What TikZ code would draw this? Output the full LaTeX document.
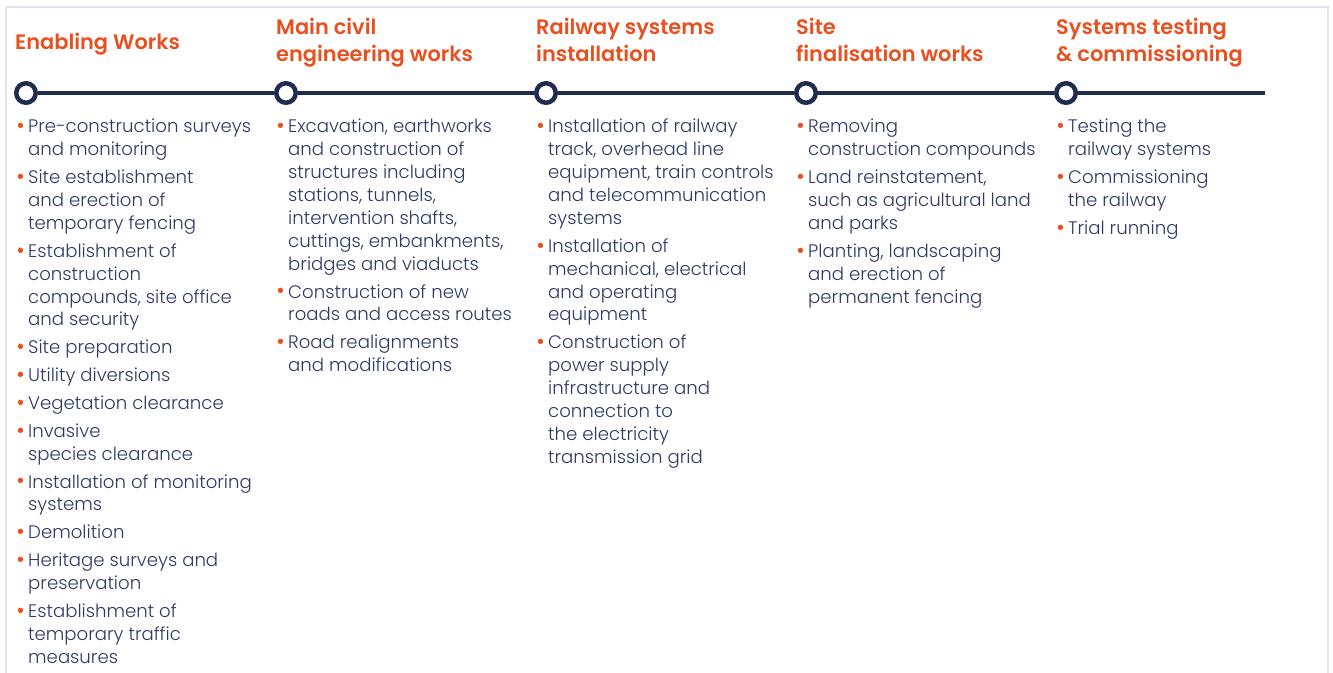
\documentclass[tikz,border=0pt]{standalone}
\usepackage{fontspec}
\usepackage{xcolor}
\setmainfont{Poppins}
\newfontfamily\poppins{Poppins}
\IfFontExistsTF{Poppins Light}{\newfontfamily\bodyfont{Poppins Light}}{\newcommand\bodyfont{\poppins}}
\IfFontExistsTF{Poppins SemiBold}{\newfontfamily\headfont{Poppins SemiBold}}{\newcommand\headfont{\poppins\bfseries}}
\definecolor{navy}{HTML}{1F2C50}
\definecolor{txt}{HTML}{2E3A64}
\definecolor{orng}{HTML}{E8511F}
\definecolor{framec}{HTML}{E2E2EE}
\newcommand\bul{\llap{\textcolor{orng}{\fontsize{23}{23}\selectfont\raisebox{-0.8bp}{•}}\hspace{3.5bp}}}
\newcommand\bi[1]{\hbox{\color{txt}\bul#1}}
\newcommand\ci[1]{\hbox{\color{txt}#1}}
\newcommand\hl[1]{\hbox{\color{orng}#1}}
\newcommand\gp{\vskip5bp}
\newcommand\colbox[1]{\vtop{\bodyfont\fontsize{18.2}{22.95}\selectfont#1}}
\newcommand\headbox[1]{\vtop{\headfont\fontsize{21}{27}\selectfont#1}}
\tikzset{
  milestone/.style={circle, draw=navy, line width=4.5bp, fill=white, minimum size=19.5bp, inner sep=0},
  colnode/.style={anchor=base west, inner sep=0},
  track/.style={draw=navy, line width=4bp},
}
\begin{document}
\begin{tikzpicture}[x=1bp,y=-1bp]
\useasboundingbox (0,0) rectangle (1333,672);
\draw[framec, line width=2bp] (6,690) -- (6,7) -- (1328,7) -- (1328,690);
% headings
\node[colnode] (h1) at (15,50) {\headbox{\hl{Enabling Works}}};
\node[colnode] (h2) at (276,35) {\headbox{\hl{Main civil}\hl{engineering works}}};
\node[colnode] (h3) at (536,35) {\headbox{\hl{Railway systems}\hl{installation}}};
\node[colnode] (h4) at (796,35) {\headbox{\hl{Site}\hl{finalisation works}}};
\node[colnode] (h5) at (1056,35) {\headbox{\hl{Systems testing}\hl{\& commissioning}}};
% timeline
\coordinate (tend) at (1265,93);
\node[milestone] (m1) at (26,93) {};
\node[milestone] (m2) at (286,93) {};
\node[milestone] (m3) at (546,93) {};
\node[milestone] (m4) at (806,93) {};
\node[milestone] (m5) at (1066,93) {};
\draw[track] (m1) -- (m2);
\draw[track] (m2) -- (m3);
\draw[track] (m3) -- (m4);
\draw[track] (m4) -- (m5);
\draw[track] (m5) -- (tend);
% columns
\node[colnode] (c1) at (28,133) {\colbox{%
\bi{Pre-construction surveys}\ci{and monitoring}\gp
\bi{Site establishment}\ci{and erection of}\ci{temporary fencing}\gp
\bi{Establishment of}\ci{construction}\ci{compounds, site office}\ci{and security}\gp
\bi{Site preparation}\gp
\bi{Utility diversions}\gp
\bi{Vegetation clearance}\gp
\bi{Invasive}\ci{species clearance}\gp
\bi{Installation of monitoring}\ci{systems}\gp
\bi{Demolition}\gp
\bi{Heritage surveys and}\ci{preservation}\gp
\bi{Establishment of}\ci{temporary traffic}\ci{measures}}};
\node[colnode] (c2) at (288,133) {\colbox{%
\bi{Excavation, earthworks}\ci{and construction of}\ci{structures including}\ci{stations, tunnels,}\ci{intervention shafts,}\ci{cuttings, embankments,}\ci{bridges and viaducts}\gp
\bi{Construction of new}\ci{roads and access routes}\gp
\bi{Road realignments}\ci{and modifications}}};
\node[colnode] (c3) at (548,133) {\colbox{%
\bi{Installation of railway}\ci{track, overhead line}\ci{equipment, train controls}\ci{and telecommunication}\ci{systems}\gp
\bi{Installation of}\ci{mechanical, electrical}\ci{and operating}\ci{equipment}\gp
\bi{Construction of}\ci{power supply}\ci{infrastructure and}\ci{connection to}\ci{the electricity}\ci{transmission grid}}};
\node[colnode] (c4) at (808,133) {\colbox{%
\bi{Removing}\ci{construction compounds}\gp
\bi{Land reinstatement,}\ci{such as agricultural land}\ci{and parks}\gp
\bi{Planting, landscaping}\ci{and erection of}\ci{permanent fencing}}};
\node[colnode] (c5) at (1068,133) {\colbox{%
\bi{Testing the}\ci{railway systems}\gp
\bi{Commissioning}\ci{the railway}\gp
\bi{Trial running}}};
\end{tikzpicture}
\end{document}
